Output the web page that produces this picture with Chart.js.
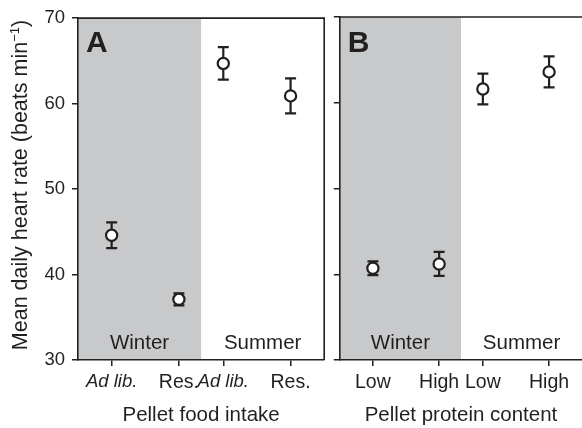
<!DOCTYPE html>
<html>
<head>
<meta charset="utf-8">
<script src="https://cdn.jsdelivr.net/npm/chart.js@4.4.0/dist/chart.umd.min.js"></script>
<style>
  html, body { margin: 0; padding: 0; background: #fff; overflow: hidden; }
  #wrap { position: relative; width: 582px; height: 428px; overflow: hidden; }
  canvas { position: absolute; top: 0; }
  #chartA { left: 0; }
  #chartB { left: 332px; }
</style>
</head>
<body>
<div id="wrap">
  <canvas id="chartA" width="332" height="428"></canvas>
  <canvas id="chartB" width="258" height="428"></canvas>
</div>
<script>
// group positions along x (two per season, seasons split by shading)
const positions = [1, 2, 2.66, 3.66];
const seasons = ['Winter', 'Summer'];
const yTicks = [30, 40, 50, 60, 70];

const intakeLabels = ['Ad lib.', 'Res.', 'Ad lib.', 'Res.'];
const intakeMeans = [44.6, 37.1, 64.7, 60.9];
const intakeErrors = [1.5, 0.7, 1.9, 2.05];

const proteinLabels = ['Low', 'High', 'Low', 'High'];
const proteinMeans = [40.7, 41.2, 61.6, 63.6];
const proteinErrors = [0.8, 1.4, 1.8, 1.8];

const ink = '#231f20';
const shade = '#c8c9cb';
const family = '"Liberation Sans", Arial, Helvetica, sans-serif';

Chart.defaults.font.family = family;
Chart.defaults.color = ink;

const panelPlugin = {
  id: 'panel',
  beforeDraw(chart, args, opts) {
    const { ctx, chartArea: a, scales: { x } } = chart;
    const split = (x.getPixelForValue(positions[1]) + x.getPixelForValue(positions[2])) / 2;
    ctx.save();
    ctx.fillStyle = shade;
    ctx.fillRect(a.left, a.top, split - a.left, a.bottom - a.top);
    ctx.restore();
  },
  beforeDatasetsDraw(chart, args, opts) {
    const { ctx, chartArea: a, scales: { x, y } } = chart;
    const pts = chart.data.datasets[0].data;
    ctx.save();
    ctx.strokeStyle = ink;
    ctx.lineWidth = 2.2;
    opts.errors.forEach((e, i) => {
      const px = x.getPixelForValue(pts[i].x);
      const hi = y.getPixelForValue(pts[i].y + e);
      const lo = y.getPixelForValue(pts[i].y - e);
      ctx.beginPath();
      ctx.moveTo(px, hi);
      ctx.lineTo(px, lo);
      ctx.moveTo(px - 5.5, hi);
      ctx.lineTo(px + 5.5, hi);
      ctx.moveTo(px - 5.5, lo);
      ctx.lineTo(px + 5.5, lo);
      ctx.stroke();
    });

    // season names along the bottom of the plot
    const split = (x.getPixelForValue(positions[1]) + x.getPixelForValue(positions[2])) / 2;
    ctx.fillStyle = ink;
    ctx.font = '20.5px ' + family;
    ctx.textAlign = 'center';
    ctx.textBaseline = 'alphabetic';
    ctx.fillText(seasons[0], (a.left + split) / 2, a.bottom - 11);
    ctx.fillText(seasons[1], (split + a.right) / 2, a.bottom - 11);
    ctx.restore();
  },
  afterDraw(chart, args, opts) {
    const { ctx, chartArea: a } = chart;
    ctx.save();
    ctx.strokeStyle = ink;
    ctx.lineWidth = 1.6;
    ctx.beginPath();
    ctx.moveTo(a.left, a.top);
    ctx.lineTo(a.right, a.top);
    if (opts.rightBorder) ctx.lineTo(a.right, a.bottom);
    ctx.stroke();

    ctx.fillStyle = ink;
    ctx.font = 'bold 30px ' + family;
    ctx.textAlign = 'left';
    ctx.textBaseline = 'alphabetic';
    ctx.fillText(opts.letter, a.left + 8, 52);

    if (opts.yTitle) {
      const [main, sup, tail] = opts.yTitle;
      ctx.translate(26.5, 185);
      ctx.rotate(-Math.PI / 2);
      ctx.font = '21.5px ' + family;
      const w1 = ctx.measureText(main).width;
      const w3 = ctx.measureText(tail).width;
      ctx.font = '13px ' + family;
      const w2 = ctx.measureText(sup).width;
      let sx = -(w1 + w2 + w3) / 2;
      ctx.font = '21.5px ' + family;
      ctx.fillText(main, sx, 0);
      sx += w1;
      ctx.font = '13px ' + family;
      ctx.fillText(sup, sx, -8);
      sx += w2;
      ctx.font = '21.5px ' + family;
      ctx.fillText(tail, sx, 0);
    }
    ctx.restore();
  }
};

function makePanel(id, labels, means, errors, opts) {
  return new Chart(document.getElementById(id), {
    type: 'scatter',
    data: {
      datasets: [{
        data: positions.map((p, i) => ({ x: p, y: means[i] })),
        pointRadius: 5.6,
        pointHoverRadius: 5.6,
        pointBorderWidth: 2.2,
        pointBorderColor: ink,
        pointBackgroundColor: '#fff'
      }]
    },
    options: {
      responsive: false,
      animation: false,
      devicePixelRatio: 1,
      layout: { padding: { top: 17, right: opts.padRight, left: 0, bottom: 0 } },
      plugins: {
        legend: { display: false },
        tooltip: { enabled: false },
        panel: { letter: opts.letter, errors: errors, rightBorder: opts.rightBorder, yTitle: opts.yTitle }
      },
      scales: {
        x: {
          type: 'linear',
          min: 0.5,
          max: 4.16,
          afterBuildTicks: (s) => { s.ticks = positions.map(v => ({ value: v })); },
          afterFit: (s) => { s.height = 68; },
          grid: { drawOnChartArea: false, drawTicks: true, tickLength: 6, color: ink, lineWidth: 1.5 },
          border: { display: true, color: ink, width: 1.6 },
          ticks: {
            autoSkip: false,
            maxRotation: 0,
            padding: 5,
            color: ink,
            font: (c) => {
              const it = opts.italicEven && c.index % 2 === 0;
              return { family: family, size: it ? 18.5 : 19.5, style: it ? 'italic' : 'normal' };
            },
            callback: (v, i) => labels[i]
          },
          title: { display: true, text: opts.xTitle, color: ink, font: { size: 20.5 }, padding: { top: 0, bottom: 0 } }
        },
        y: {
          min: 30,
          max: 70,
          afterBuildTicks: (s) => { s.ticks = yTicks.map(v => ({ value: v })); },
          afterFit: (s) => { s.width = opts.yWidth; },
          grid: { drawOnChartArea: false, drawTicks: true, tickLength: 6, color: ink, lineWidth: 1.5 },
          border: { display: true, color: ink, width: 1.6 },
          ticks: { display: opts.yLabels, padding: 7, color: ink, font: { size: 18.5 } }
        }
      }
    },
    plugins: [panelPlugin]
  });
}

makePanel('chartA', intakeLabels, intakeMeans, intakeErrors, {
  letter: 'A',
  xTitle: 'Pellet food intake',
  italicEven: true,
  rightBorder: true,
  padRight: 6,
  yWidth: 78,
  yLabels: true,
  yTitle: ['Mean daily heart rate (beats min', '\u22121', ')']
});

makePanel('chartB', proteinLabels, proteinMeans, proteinErrors, {
  letter: 'B',
  xTitle: 'Pellet protein content',
  italicEven: false,
  rightBorder: false,
  padRight: 4,
  yWidth: 6,
  yLabels: false,
  yTitle: null
});
</script>
</body>
</html>
